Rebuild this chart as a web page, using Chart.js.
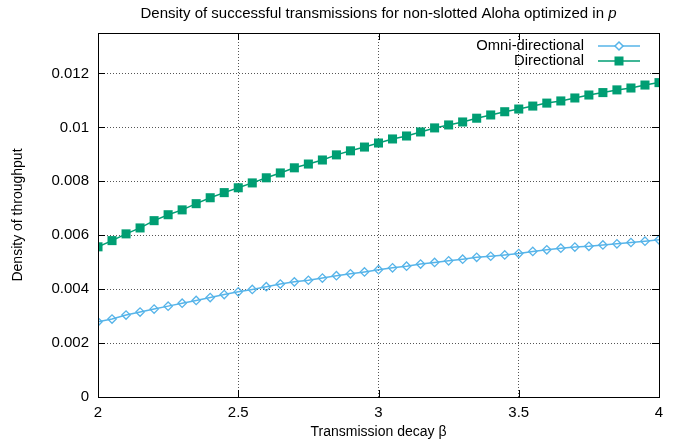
<!DOCTYPE html>
<html>
<head>
<meta charset="utf-8">
<script src="https://cdn.jsdelivr.net/npm/chart.js@4/dist/chart.umd.min.js"></script>
<style>
  html, body { margin: 0; padding: 0; background: #fff; }
  #wrap { width: 684px; height: 444px; }
</style>
</head>
<body>
<div id="wrap"><canvas id="chart" width="684" height="444"></canvas></div>
<script>
const beta = [2.00, 2.05, 2.10, 2.15, 2.20, 2.25, 2.30, 2.35, 2.40, 2.45,
  2.50, 2.55, 2.60, 2.65, 2.70, 2.75, 2.80, 2.85, 2.90, 2.95,
  3.00, 3.05, 3.10, 3.15, 3.20, 3.25, 3.30, 3.35, 3.40, 3.45,
  3.50, 3.55, 3.60, 3.65, 3.70, 3.75, 3.80, 3.85, 3.90, 3.95, 4.00];
const omni = [0.00279, 0.00289, 0.00304, 0.00315, 0.00326, 0.00337, 0.00348, 0.00358, 0.00369, 0.00380,
  0.00390, 0.00399, 0.00409, 0.00419, 0.00427, 0.00433, 0.00441, 0.00450, 0.00457, 0.00464,
  0.00472, 0.00479, 0.00485, 0.00493, 0.00499, 0.00505, 0.00511, 0.00518, 0.00522, 0.00527,
  0.00532, 0.00540, 0.00546, 0.00552, 0.00556, 0.00559, 0.00564, 0.00568, 0.00573, 0.00578, 0.00583];
const directional = [0.00557, 0.00580, 0.00605, 0.00627, 0.00654, 0.00676, 0.00694, 0.00717, 0.00739, 0.00758,
  0.00776, 0.00794, 0.00813, 0.00831, 0.00850, 0.00864, 0.00879, 0.00898, 0.00913, 0.00927,
  0.00942, 0.00957, 0.00968, 0.00983, 0.00998, 0.01009, 0.01020, 0.01034, 0.01046, 0.01058,
  0.01068, 0.01079, 0.01090, 0.01098, 0.01109, 0.01120, 0.01129, 0.01139, 0.01146, 0.01157, 0.01166];
const seriesNames = ['Omni-directional', 'Directional'];
const xTicks = [2, 2.5, 3, 3.5, 4];

const FONT = '"Liberation Sans", Arial, Helvetica, sans-serif';
const BLUE = '#56b4e9', GREEN = '#009e73';

// gnuplot-style frame, inward ticks, title and key
const gnuplotDeco = {
  id: 'gnuplotDeco',
  afterDraw(chart) {
    const { ctx, chartArea: a, scales } = chart;
    ctx.save();
    ctx.strokeStyle = '#000';
    ctx.lineWidth = 1;
    ctx.strokeRect(Math.round(a.left) + 0.5, Math.round(a.top) + 0.5, Math.round(a.width), Math.round(a.height));
    ctx.beginPath();
    scales.y.ticks.forEach(t => {
      const y = Math.round(scales.y.getPixelForValue(t.value)) + 0.5;
      ctx.moveTo(a.left, y); ctx.lineTo(a.left + 7, y);
      ctx.moveTo(a.right, y); ctx.lineTo(a.right - 7, y);
    });
    scales.x.ticks.forEach(t => {
      const x = Math.round(scales.x.getPixelForValue(t.value)) + 0.5;
      ctx.moveTo(x, a.bottom); ctx.lineTo(x, a.bottom - 7);
      ctx.moveTo(x, a.top); ctx.lineTo(x, a.top + 7);
    });
    ctx.stroke();

    // title with italic p
    ctx.fillStyle = '#000';
    ctx.textBaseline = 'middle';
    const main = 'Density of successful transmissions for non-slotted Aloha optimized in ';
    ctx.font = '15px ' + FONT;
    const w1 = ctx.measureText(main).width;
    ctx.font = 'italic 15px ' + FONT;
    const w2 = ctx.measureText('p').width;
    let x0 = (a.left + a.right) / 2 - (w1 + w2) / 2;
    ctx.font = '15px ' + FONT;
    ctx.textAlign = 'left';
    ctx.fillText(main, x0, 13.5);
    ctx.font = 'italic 15px ' + FONT;
    ctx.fillText('p', x0 + w1, 13.5);

    // key
    ctx.font = '14.8px ' + FONT;
    ctx.textAlign = 'right';
    const rows = [
      { name: seriesNames[0], color: BLUE, y: 46 },
      { name: seriesNames[1], color: GREEN, y: 61 }
    ];
    rows.forEach((r, i) => {
      ctx.fillStyle = '#000';
      ctx.fillText(r.name, 584, r.y);
      ctx.strokeStyle = r.color;
      ctx.lineWidth = 1.5;
      ctx.beginPath();
      ctx.moveTo(598, r.y); ctx.lineTo(640, r.y);
      ctx.stroke();
      if (i === 0) {
        ctx.beginPath();
        ctx.moveTo(619, r.y - 4); ctx.lineTo(623, r.y); ctx.lineTo(619, r.y + 4); ctx.lineTo(615, r.y);
        ctx.closePath();
        ctx.fillStyle = '#fff';
        ctx.fill();
        ctx.stroke();
      } else {
        ctx.fillStyle = r.color;
        ctx.fillRect(614.5, r.y - 4.5, 9, 9);
      }
    });
    ctx.restore();
  }
};

new Chart(document.getElementById('chart'), {
  type: 'line',
  data: {
    datasets: [
      {
        label: seriesNames[0],
        data: beta.map((b, i) => ({ x: b, y: omni[i] })),
        borderColor: BLUE, backgroundColor: '#fff',
        borderWidth: 1.5, pointStyle: 'rectRot', pointRadius: 4.2,
        pointBorderWidth: 1.3, pointBorderColor: BLUE, pointBackgroundColor: 'rgba(255,255,255,0)',
        tension: 0
      },
      {
        label: seriesNames[1],
        data: beta.map((b, i) => ({ x: b, y: directional[i] })),
        borderColor: GREEN, backgroundColor: GREEN,
        borderWidth: 1.5, pointStyle: 'rect', pointRadius: 6.4,
        pointBorderWidth: 0, pointBackgroundColor: GREEN,
        tension: 0
      }
    ]
  },
  options: {
    responsive: false,
    animation: false,
    layout: { padding: { top: 33, right: 25, left: 0, bottom: 0 } },
    plugins: { legend: { display: false }, title: { display: false }, tooltip: { enabled: false } },
    scales: {
      x: {
        type: 'linear', min: 2, max: 4,
        afterFit(s) { s.height = 47; },
        afterBuildTicks(s) { s.ticks = xTicks.map(v => ({ value: v })); },
        ticks: { color: '#000', font: { family: FONT, size: 15 }, padding: 7, callback: v => String(v) },
        grid: { color: '#555', drawTicks: false, lineWidth: 1 },
        border: { display: false, dash: [1, 2] },
        title: { display: true, text: 'Transmission decay β', color: '#000', font: { family: FONT, size: 14 }, padding: { top: 0, bottom: 3 } }
      },
      y: {
        min: 0, max: 0.0135,
        afterFit(s) { s.width = 98; },
        ticks: { stepSize: 0.002, includeBounds: false, color: '#000', font: { family: FONT, size: 15 }, padding: 9,
          callback: v => String(Number(v.toFixed(4))) },
        grid: { color: '#555', drawTicks: false, lineWidth: 1 },
        border: { display: false, dash: [1, 2] },
        title: { display: true, text: 'Density of throughput', color: '#000', font: { family: FONT, size: 14 }, padding: { top: 10, bottom: 0 } }
      }
    }
  },
  plugins: [gnuplotDeco]
});
</script>
</body>
</html>
